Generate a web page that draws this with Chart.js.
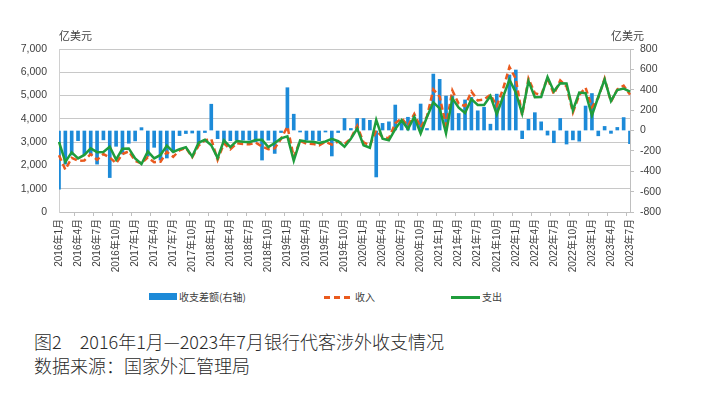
<!DOCTYPE html>
<html>
<head>
<meta charset="utf-8">
<script src="https://cdn.jsdelivr.net/npm/chart.js@4.4.1/dist/chart.umd.min.js"></script>
<style>
body { margin: 0; background: #fff; width: 710px; height: 399px; position: relative; overflow: hidden;
       font-family: "Liberation Sans", "Noto Sans CJK SC", sans-serif; color: #404040; }
#wrap { position: absolute; left: 0; top: 0; width: 710px; height: 280px; }
.unit { position: absolute; top: 27px; font-size: 11px; font-family: "Noto Sans CJK SC", sans-serif; }
.lg { position: absolute; top: 290px; font-size: 10px; line-height: 14px; font-family: "Noto Sans CJK SC", sans-serif; }
.caption { position: absolute; left: 34px; font-size: 18px; color: #2a2a2a; font-family: "Noto Sans CJK SC", sans-serif; font-weight: 300; }
</style>
</head>
<body>
<div id="wrap"><canvas id="chart"></canvas></div>
<div class="unit" style="left:59px">亿美元</div>
<div class="unit" style="left:611px">亿美元</div>

<div style="position:absolute;left:149px;top:293px;width:28px;height:7px;background:#1c8ad8"></div>
<div class="lg" style="left:179px">收支差额(右轴)</div>
<div style="position:absolute;left:324px;top:296px;width:26px;height:3px;background:repeating-linear-gradient(to right,#ea5a1e 0 6px,transparent 6px 10px)"></div>
<div class="lg" style="left:355px">收入</div>
<div style="position:absolute;left:451px;top:296px;width:29px;height:3px;background:#1f9d3c"></div>
<div class="lg" style="left:482px">支出</div>

<div class="caption" style="top:328px">图2　2016年1月—2023年7月银行代客涉外收支情况</div>
<div class="caption" style="top:352px">数据来源：国家外汇管理局</div>

<script>
// months 2016-01 .. 2023-07
const months = [
  '2016年1月','2016年2月','2016年3月','2016年4月','2016年5月','2016年6月','2016年7月','2016年8月','2016年9月','2016年10月','2016年11月','2016年12月',
  '2017年1月','2017年2月','2017年3月','2017年4月','2017年5月','2017年6月','2017年7月','2017年8月','2017年9月','2017年10月','2017年11月','2017年12月',
  '2018年1月','2018年2月','2018年3月','2018年4月','2018年5月','2018年6月','2018年7月','2018年8月','2018年9月','2018年10月','2018年11月','2018年12月',
  '2019年1月','2019年2月','2019年3月','2019年4月','2019年5月','2019年6月','2019年7月','2019年8月','2019年9月','2019年10月','2019年11月','2019年12月',
  '2020年1月','2020年2月','2020年3月','2020年4月','2020年5月','2020年6月','2020年7月','2020年8月','2020年9月','2020年10月','2020年11月','2020年12月',
  '2021年1月','2021年2月','2021年3月','2021年4月','2021年5月','2021年6月','2021年7月','2021年8月','2021年9月','2021年10月','2021年11月','2021年12月',
  '2022年1月','2022年2月','2022年3月','2022年4月','2022年5月','2022年6月','2022年7月','2022年8月','2022年9月','2022年10月','2022年11月','2022年12月',
  '2023年1月','2023年2月','2023年3月','2023年4月','2023年5月','2023年6月','2023年7月'
];

// 收支差额 (right axis)
const balance = [
  -575, -330, -240, -100, -235, -245, -330, -92, -462, -155, -230, -125,
  -102, 28, -250, -165, -290, -270, -210, -50, -30, -25, -130, -20,
  258, -80, -135, -100, -95, -95, -95, -110, -290, -95, -225, -20,
  420, 160, -15, -95, -95, -100, -15, -250, -20, 118, 20, 118,
  118, 100, -456, 70, 85, 250, 90, 130, 130, 260, 20, 554,
  502, 338, 340, 167, 300, 325, 193, 228, 62, 357, 340, 545,
  594, -80, 110, 175, 85, -45, -120, 118, -133, -92, -105, 240,
  363, -52, 40, -28, 30, 127, -129
];

// 收入 (left axis)
const income = [
  2435, 1820, 2320, 2200, 2215, 2485, 2240, 2488, 2338, 2095, 2490, 2605,
  2198, 2088, 2350, 2135, 2160, 2580, 2370, 2650, 2750, 2355, 2850, 3080,
  3128, 2240, 2945, 2690, 2955, 2925, 2905, 2980, 2810, 2695, 2735, 3140,
  3670, 2360, 3055, 2935, 2925, 2860, 3015, 2890, 3020, 2918, 3160, 3698,
  2988, 2860, 3504, 3220, 3165, 3810, 4030, 3690, 4210, 3630, 4100, 5264,
  4952, 3718, 5220, 4647, 4550, 5175, 4793, 4828, 5042, 4557, 5290, 6225,
  5724, 4150, 5730, 5105, 5025, 5755, 5060, 5648, 5387, 4278, 5025, 5340,
  4503, 4898, 5730, 4732, 5270, 5427, 5041
];

// 支出 (left axis)
const expense = [
  3010, 2150, 2560, 2300, 2450, 2730, 2570, 2580, 2800, 2250, 2720, 2730,
  2300, 2060, 2600, 2300, 2450, 2850, 2580, 2700, 2780, 2380, 2980, 3100,
  2870, 2320, 3080, 2790, 3050, 3020, 3000, 3090, 3100, 2790, 2960, 3160,
  3250, 2200, 3070, 3030, 3020, 2960, 3030, 3140, 3040, 2800, 3140, 3580,
  2870, 2760, 3960, 3150, 3080, 3560, 3940, 3560, 4080, 3370, 4080, 4710,
  4450, 3380, 4880, 4480, 4250, 4850, 4600, 4600, 4980, 4200, 4950, 5680,
  5130, 4230, 5620, 4930, 4940, 5800, 5180, 5530, 5520, 4370, 5130, 5100,
  4140, 4950, 5690, 4760, 5240, 5300, 5170
];

const axisFont = { family: '"Liberation Sans", "Noto Sans CJK SC", sans-serif', size: 10.5 };

const ctx = document.getElementById('chart').getContext('2d');
const chart = new Chart(ctx, {
    data: {
        labels: months,
        datasets: [
            {
                type: 'line',
                label: '支出',
                data: expense,
                yAxisID: 'y',
                borderColor: '#1f9d3c',
                borderWidth: 2.5,
                pointRadius: 0,
                tension: 0,
                order: 1
            },
            {
                type: 'line',
                label: '收入',
                data: income,
                yAxisID: 'y',
                borderColor: '#ea5a1e',
                borderWidth: 2.5,
                borderDash: [6, 3.5],
                pointRadius: 0,
                tension: 0,
                order: 2
            },
            {
                type: 'bar',
                label: '收支差额(右轴)',
                data: balance,
                yAxisID: 'y1',
                backgroundColor: '#1c8ad8',
                barThickness: 3,
                clip: 0,
                order: 3
            }
        ]
    },
    options: {
        responsive: true,
        maintainAspectRatio: false,
        animation: false,
        layout: { padding: { top: 49, left: 0, right: 0, bottom: 0 } },
        plugins: {
            legend: { display: false },
            tooltip: { enabled: false }
        },
        scales: {
            x: {
                offset: false,
                grid: {
                    display: true,
                    drawOnChartArea: false,
                    tickLength: 4,
                    color: (c) => (c.index % 3 === 0 ? '#bfbfbf' : 'rgba(0,0,0,0)')
                },
                border: { display: true, color: '#bfbfbf' },
                ticks: {
                    autoSkip: false,
                    minRotation: 90,
                    maxRotation: 90,
                    padding: 3,
                    color: '#404040',
                    font: { family: '"Liberation Sans", "Noto Sans CJK SC", sans-serif', size: 10 },
                    callback: (v, i) => (i % 3 === 0 ? months[i] : '')
                },
                afterFit: (scale) => { scale.height = 68; }
            },
            y: {
                position: 'left',
                min: 0,
                max: 7000,
                grid: { color: '#c8c8c8', drawTicks: false },
                border: { display: true, color: '#d0d0d0' },
                ticks: {
                    stepSize: 1000,
                    padding: 12,
                    color: '#404040',
                    font: axisFont,
                    callback: (v) => v.toLocaleString('en-US')
                },
                afterFit: (scale) => { scale.width = 59; }
            },
            y1: {
                position: 'right',
                min: -800,
                max: 800,
                grid: { drawOnChartArea: false, tickLength: 4, color: '#bfbfbf' },
                border: { display: true, color: '#bfbfbf' },
                ticks: {
                    stepSize: 200,
                    padding: 6,
                    color: '#404040',
                    font: axisFont
                },
                afterFit: (scale) => { scale.width = 80; }
            }
        }
    }
});
</script>
</body>
</html>
